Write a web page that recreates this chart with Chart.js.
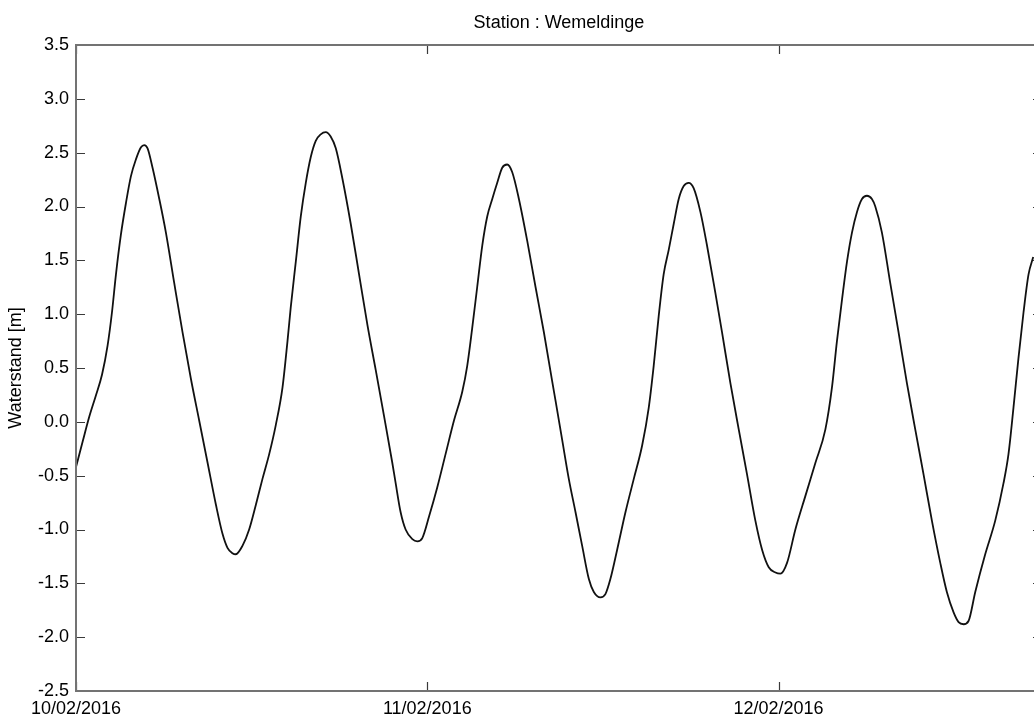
<!DOCTYPE html>
<html>
<head>
<meta charset="utf-8">
<script src="https://cdn.jsdelivr.net/npm/chart.js@4/dist/chart.umd.min.js"></script>
<style>
  html, body { margin: 0; padding: 0; background: #fff; overflow: hidden; width: 1034px; height: 719px; }
  #wrap { position: absolute; left: 0; top: 0; width: 1052px; height: 719px; }
</style>
</head>
<body>
<div id="wrap"><canvas id="c"></canvas></div>
<script>
// Water level at Wemeldinge, hours counted from 10/02/2016 00:00
const chartTitle = 'Station : Wemeldinge';
const yAxisTitle = 'Waterstand [m]';
const dayLabels = ['10/02/2016', '11/02/2016', '12/02/2016'];

const hours = [
  0, 0.46, 0.91, 1.37, 1.78, 2.16, 2.46, 2.73, 3.07, 3.41, 3.75, 4.10, 4.44, 4.66, 4.89, 5.23,
  5.69, 6.14, 6.71, 7.28, 7.85, 8.42, 8.99, 9.56, 10.01, 10.35, 10.69, 10.92, 11.38, 11.83,
  12.29, 12.74, 13.20, 13.65, 14.11, 14.45, 14.67, 15.02, 15.36, 15.70, 16.04, 16.38, 16.72,
  17.06, 17.40, 17.75, 18.20, 18.77, 19.34, 19.91, 20.48, 21.05, 21.61, 21.84, 22.18, 22.52,
  22.98, 23.32, 23.66, 24.12, 24.68, 25.25, 25.82, 26.39, 26.73, 27.07, 27.41, 27.76, 28.10,
  28.44, 28.78, 29.12, 29.46, 29.80, 30.26, 30.83, 31.40, 31.97, 32.53, 32.76, 33.22, 33.67,
  34.13, 34.58, 35.04, 35.38, 35.83, 36.17, 36.51, 36.97, 37.54, 38.11, 38.68, 39.13, 39.47,
  39.81, 40.15, 40.50, 40.84, 41.18, 41.52, 41.86, 42.20, 42.66, 43.11, 43.68, 44.14, 44.71,
  45.28, 45.85, 46.42, 46.88, 47.33, 47.79, 48.13, 48.58, 49.15, 49.83, 50.52, 51.20, 51.65,
  51.99, 52.34, 52.68, 53.02, 53.36, 53.70, 54.04, 54.38, 54.61, 55.06, 55.63, 56.20, 56.77,
  57.34, 57.91, 58.48, 59.05, 59.50, 59.96, 60.30, 60.64, 60.98, 61.44, 62.12, 62.80, 63.37,
  63.71, 64.05, 64.39, 64.74, 65.08, 65.40
];

const waterstand = [
  -0.42, -0.18, 0.05, 0.25, 0.44, 0.71, 1.02, 1.37, 1.74, 2.03, 2.28, 2.44, 2.55, 2.57, 2.54, 2.36,
  2.07, 1.76, 1.29, 0.83, 0.40, 0.01, -0.38, -0.77, -1.04, -1.17, -1.22, -1.23, -1.15, -1.00,
  -0.77, -0.53, -0.30, -0.03, 0.32, 0.75, 1.06, 1.49, 1.91, 2.22, 2.46, 2.61, 2.67,
  2.69, 2.65, 2.54, 2.26, 1.84, 1.37, 0.90, 0.48, 0.05, -0.38, -0.57, -0.84, -1.00,
  -1.09, -1.11, -1.08, -0.88, -0.61, -0.30, 0.01, 0.28, 0.52, 0.87, 1.25, 1.64, 1.91,
  2.07, 2.22, 2.36, 2.39, 2.32, 2.07, 1.68, 1.25, 0.83, 0.38, 0.20, -0.17, -0.53,
  -0.84, -1.15, -1.46, -1.58, -1.63, -1.60, -1.46, -1.19, -0.84, -0.53, -0.22, 0.13, 0.52,
  0.98, 1.37, 1.60, 1.84, 2.07, 2.19, 2.22, 2.17, 1.95, 1.64, 1.20, 0.83, 0.36,
  -0.07, -0.49, -0.92, -1.19, -1.35, -1.40, -1.41, -1.31, -1.00, -0.69, -0.38, -0.07, 0.32,
  0.75, 1.14, 1.49, 1.76, 1.95, 2.07, 2.10, 2.07, 2.00, 1.76, 1.29, 0.83, 0.36,
  -0.07, -0.49, -0.92, -1.31, -1.58, -1.77, -1.86, -1.88, -1.85, -1.58, -1.23, -0.92, -0.57,
  -0.30, 0.13, 0.59, 1.02, 1.37, 1.53
];

const FONT = "'Liberation Sans', Arial, sans-serif";
const TICK_LEN = 9;

// Plot frame with inward tick marks on all four sides, and the title centred over the plot
const framePlugin = {
  id: 'frame',
  afterDraw(chart) {
    const { ctx, chartArea: a, scales } = chart;
    ctx.save();
    ctx.strokeStyle = '#3a3a3a';
    ctx.lineWidth = 1.2;
    ctx.beginPath();
    scales.y.ticks.forEach(t => {
      const py = Math.round(scales.y.getPixelForValue(t.value)) + 0.5;
      ctx.moveTo(a.left, py); ctx.lineTo(a.left + TICK_LEN, py);
      ctx.moveTo(a.right, py); ctx.lineTo(a.right - TICK_LEN, py);
    });
    scales.x.ticks.forEach(t => {
      const px = Math.round(scales.x.getPixelForValue(t.value)) + 0.5;
      ctx.moveTo(px, a.bottom); ctx.lineTo(px, a.bottom - TICK_LEN);
      ctx.moveTo(px, a.top); ctx.lineTo(px, a.top + TICK_LEN);
    });
    ctx.stroke();
    ctx.strokeStyle = '#737373';
    ctx.lineWidth = 2;
    ctx.strokeRect(a.left, a.top, a.right - a.left, a.bottom - a.top);

    ctx.fillStyle = '#000';
    ctx.font = '18px ' + FONT;
    ctx.textAlign = 'center';
    ctx.textBaseline = 'middle';
    ctx.fillText(chartTitle, (a.left + a.right) / 2, 23);
    ctx.restore();
  }
};

new Chart(document.getElementById('c'), {
  type: 'line',
  data: {
    datasets: [{
      data: hours.map((h, i) => ({ x: h, y: waterstand[i] })),
      borderColor: '#111111',
      borderWidth: 1.8,
      pointRadius: 0,
      fill: false,
      cubicInterpolationMode: 'monotone'
    }]
  },
  options: {
    responsive: true,
    maintainAspectRatio: false,
    animation: false,
    layout: { padding: { left: 0, right: 10, top: 45, bottom: 0 } },
    plugins: {
      legend: { display: false },
      tooltip: { enabled: false },
      title: { display: false }
    },
    scales: {
      x: {
        type: 'linear',
        min: 0,
        max: 66,
        grid: { display: false, drawTicks: false },
        border: { display: false },
        afterBuildTicks: s => { s.ticks = s.ticks.filter(t => t.value % 24 === 0); },
        afterFit: s => { s.height = 28; },
        ticks: {
          stepSize: 24,
          autoSkip: false,
          maxRotation: 0,
          padding: 7,
          color: '#000',
          font: { family: FONT, size: 18 },
          callback: v => dayLabels[Math.round(v / 24)]
        }
      },
      y: {
        min: -2.5,
        max: 3.5,
        grid: { display: false, drawTicks: false },
        border: { display: false },
        afterFit: s => { s.width = 76; },
        title: {
          display: true,
          text: yAxisTitle,
          color: '#000',
          font: { family: FONT, size: 18 },
          padding: { top: 5, bottom: 0 }
        },
        ticks: {
          stepSize: 0.5,
          padding: 7,
          color: '#000',
          font: { family: FONT, size: 18 },
          callback: v => v.toFixed(1)
        }
      }
    }
  },
  plugins: [framePlugin]
});
</script>
</body>
</html>
